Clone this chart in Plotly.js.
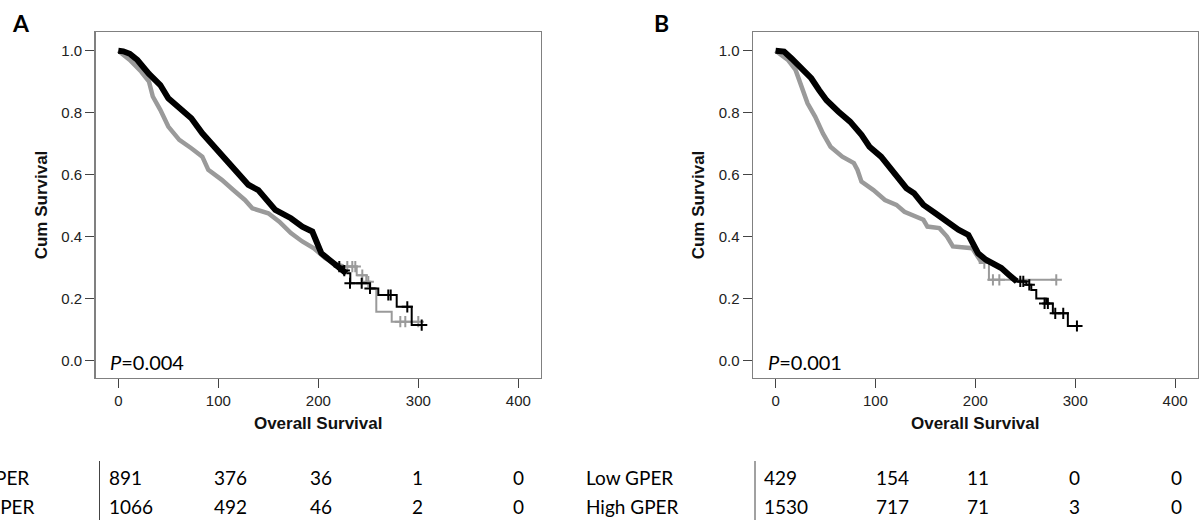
<!DOCTYPE html>
<html><head><meta charset="utf-8">
<script src="https://cdn.plot.ly/plotly-3.0.1.min.js"></script>
<style>html,body{margin:0;padding:0;background:#fff}#chart{width:1199px;height:520px}</style>
</head><body><div id="chart"></div>
<script>
// ---------------- DATA ----------------
// Panel A – High GPER (black)
const timeA_high = [0, 5, 11.5, 19, 30.7, 42, 50, 61, 73, 84, 96, 107, 119, 130, 140, 150, 157, 172.6, 184, 194, 198, 203, 211, 218.6, 228, 232, 251.7, 260, 278.4, 293.4, 303.4];
const survA_high = [1.0, 0.998, 0.99, 0.97, 0.925, 0.889, 0.846, 0.814, 0.782, 0.733, 0.69, 0.647, 0.604, 0.567, 0.55, 0.513, 0.486, 0.459, 0.432, 0.416, 0.389, 0.346, 0.325, 0.303, 0.281, 0.249, 0.232, 0.211, 0.173, 0.114, 0.114];
const censTimeA_high = [221, 226, 231.7, 243.4, 251.7, 270, 272.4, 289, 303.4];
const censSurvA_high = [0.303, 0.29, 0.249, 0.249, 0.232, 0.211, 0.211, 0.173, 0.114];
// Panel A – Low GPER (grey)
const timeA_low = [0, 11.5, 23, 30.7, 34.5, 42, 50, 61, 73, 84, 90, 103.5, 115, 126.6, 134, 150, 161, 172.6, 184, 195.6, 207, 218.6, 225, 238.4, 248, 252, 258, 273.4, 300];
const survA_low = [1.0, 0.97, 0.932, 0.9, 0.852, 0.809, 0.755, 0.712, 0.685, 0.658, 0.615, 0.583, 0.55, 0.518, 0.491, 0.475, 0.448, 0.411, 0.384, 0.362, 0.33, 0.309, 0.303, 0.275, 0.254, 0.233, 0.157, 0.125, 0.125];
const censTimeA_low = [229, 234, 237, 244, 250, 282, 287, 300];
const censSurvA_low = [0.303, 0.303, 0.303, 0.275, 0.254, 0.125, 0.125, 0.125];
// Panel B – High GPER (black)
const timeB_high = [0, 8.5, 16, 26, 35.7, 43.5, 51, 63, 74.6, 86, 94, 105.6, 117, 125, 131, 138.6, 148, 160, 171.6, 183, 193, 197, 202.7, 210.5, 218, 226, 233.8, 241.5, 251, 256, 261, 271, 277.6, 292.6, 301.7];
const survB_high = [1.0, 0.997, 0.975, 0.943, 0.911, 0.873, 0.84, 0.803, 0.771, 0.728, 0.69, 0.658, 0.615, 0.583, 0.556, 0.54, 0.502, 0.475, 0.448, 0.422, 0.405, 0.378, 0.346, 0.325, 0.314, 0.298, 0.276, 0.255, 0.244, 0.227, 0.2, 0.184, 0.152, 0.111, 0.111];
const censTimeB_high = [245, 248, 254, 269.3, 272.6, 280, 288, 301.7];
const censSurvB_high = [0.255, 0.255, 0.244, 0.184, 0.184, 0.152, 0.152, 0.111];
// Panel B – Low GPER (grey)
const timeB_low = [0, 12.4, 20, 26, 32, 39.6, 47.4, 55, 66.8, 78.4, 82, 86, 98, 109.5, 121, 129, 140.6, 148, 152, 164, 171.6, 177.5, 197, 202.7, 206.6, 213.6, 282];
const survB_low = [1.0, 0.97, 0.938, 0.884, 0.83, 0.787, 0.733, 0.69, 0.658, 0.637, 0.615, 0.577, 0.55, 0.518, 0.502, 0.48, 0.465, 0.454, 0.432, 0.427, 0.4, 0.368, 0.362, 0.335, 0.314, 0.26, 0.26];
const censTimeB_low = [209, 217.6, 224, 281];
const censSurvB_low = [0.314, 0.26, 0.26, 0.26];

// Numbers at risk
const rowLabels = ["Low GPER", "High GPER"];
const riskA_low = [891, 376, 36, 1, 0];
const riskA_high = [1066, 492, 46, 2, 0];
const riskB_low = [429, 154, 11, 0, 0];
const riskB_high = [1530, 717, 71, 3, 0];

const xTicks = [0, 100, 200, 300, 400];
const yTicks = [0, 0.2, 0.4, 0.6, 0.8, 1.0];
const pValueA = "0.004";
const pValueB = "0.001";

// ---------------- STYLE / LAYOUT ----------------
const W = 1199, H = 520;
const fx = v => v / W, fy = v => 1 - v / H;
const BLACK = '#000000', GREY = '#9a9a9a';
const AX_FONT = 'Liberation Sans, Arial, sans-serif';
const TXT_FONT = 'Lato, Carlito, Calibri, sans-serif';

function curve(t, s, ct, cs, denseUntil, color, thick, xa, ya) {
  let k = t.findIndex(v => v >= denseUntil);
  if (k < 0) k = t.length - 1;
  return [
    {x: t.slice(0, k + 1), y: s.slice(0, k + 1), xaxis: xa, yaxis: ya, mode: 'lines',
     line: {color: color, width: thick, shape: 'linear'}, hoverinfo: 'skip', showlegend: false},
    {x: t.slice(k), y: s.slice(k), xaxis: xa, yaxis: ya, mode: 'lines',
     line: {color: color, width: 2, shape: 'hv'}, hoverinfo: 'skip', showlegend: false},
    {x: ct, y: cs, xaxis: xa, yaxis: ya, mode: 'markers',
     marker: {symbol: 'cross-thin', size: 8, color: color, line: {color: color, width: 2}},
     hoverinfo: 'skip', showlegend: false}
  ];
}

const data = [].concat(
  curve(timeA_low, survA_low, censTimeA_low, censSurvA_low, 225, GREY, 4.5, 'x', 'y'),
  curve(timeA_high, survA_high, censTimeA_high, censSurvA_high, 228, BLACK, 6, 'x', 'y'),
  curve(timeB_low, survB_low, censTimeB_low, censSurvB_low, 206, GREY, 4.5, 'x2', 'y2'),
  curve(timeB_high, survB_high, censTimeB_high, censSurvB_high, 241, BLACK, 6, 'x2', 'y2')
);

function xAxis(dom, anchor) {
  return {domain: dom, anchor: anchor, range: [-22.6, 422.4], tickvals: xTicks,
    ticks: 'outside', ticklen: 9, tickwidth: 1, tickcolor: '#444',
    showline: true, linecolor: '#808080', linewidth: 1.5, mirror: true,
    showgrid: false, zeroline: false, fixedrange: true,
    tickfont: {family: AX_FONT, size: 15, color: '#222'},
    title: {text: '<b>Overall Survival</b>', font: {family: AX_FONT, size: 17, color: '#111'}, standoff: 9}};
}
function yAxis(anchor) {
  return {domain: [fy(377.7), fy(32.3)], anchor: anchor, range: [-0.056, 1.0594], tickvals: yTicks,
    tickformat: '.1f', ticks: 'outside', ticklen: 9, tickwidth: 1, tickcolor: '#444',
    showline: true, linecolor: '#808080', linewidth: 1.5, mirror: true,
    showgrid: false, zeroline: false, fixedrange: true,
    tickfont: {family: AX_FONT, size: 15, color: '#222'},
    title: {text: '<b>Cum Survival</b>', font: {family: AX_FONT, size: 17, color: '#111'}, standoff: 9}};
}

const annotations = [];
function txt(x, y, text, size, anchor, extra) {
  annotations.push(Object.assign({xref: 'paper', yref: 'paper', x: fx(x), y: fy(y), text: text,
    showarrow: false, xanchor: anchor || 'left', yanchor: 'middle',
    font: {family: TXT_FONT, size: size, color: '#000'}}, extra || {}));
}
// Panel letters
txt(21, 23, '<b>A</b>', 23, 'center');
txt(661, 23, '<b>B</b>', 23, 'center');
// P values
txt(108, 362, '<i>P</i>=' + pValueA, 20, 'left');
txt(766, 362, '<i>P</i>=' + pValueB, 20, 'left');

// Risk tables
const rowY = [477, 506];
const colA = [107, 230, 321, 417, 518];
const colB = [762, 892, 978, 1074, 1176];
[riskA_low, riskA_high].forEach((row, r) => {
  row.forEach((v, c) => txt(colA[c], rowY[r], String(v), 19, c === 0 ? 'left' : 'center'));
});
[riskB_low, riskB_high].forEach((row, r) => {
  row.forEach((v, c) => txt(colB[c], rowY[r], String(v), 19, c === 0 ? 'left' : 'center'));
});
rowLabels.forEach((lab, r) => {
  txt(-60, rowY[r], lab, 19, 'left');
  txt(584, rowY[r], lab, 19, 'left');
});

const shapes = [
  {type: 'line', xref: 'paper', yref: 'paper', x0: fx(99.5), x1: fx(99.5), y0: fy(461), y1: fy(520), line: {color: '#444', width: 1}},
  {type: 'line', xref: 'paper', yref: 'paper', x0: fx(755), x1: fx(755), y0: fy(461), y1: fy(520), line: {color: '#444', width: 1}}
];

const layout = {
  width: W, height: H, margin: {l: 0, r: 0, t: 0, b: 0},
  paper_bgcolor: '#fff', plot_bgcolor: '#fff', showlegend: false,
  xaxis: xAxis([fx(95.7), fx(540.7)], 'y'),
  yaxis: yAxis('x'),
  xaxis2: xAxis([fx(753), fx(1197.5)], 'y2'),
  yaxis2: yAxis('x2'),
  annotations: annotations, shapes: shapes
};

Plotly.newPlot('chart', data, layout, {displayModeBar: false, staticPlot: true});
</script>
</body></html>
